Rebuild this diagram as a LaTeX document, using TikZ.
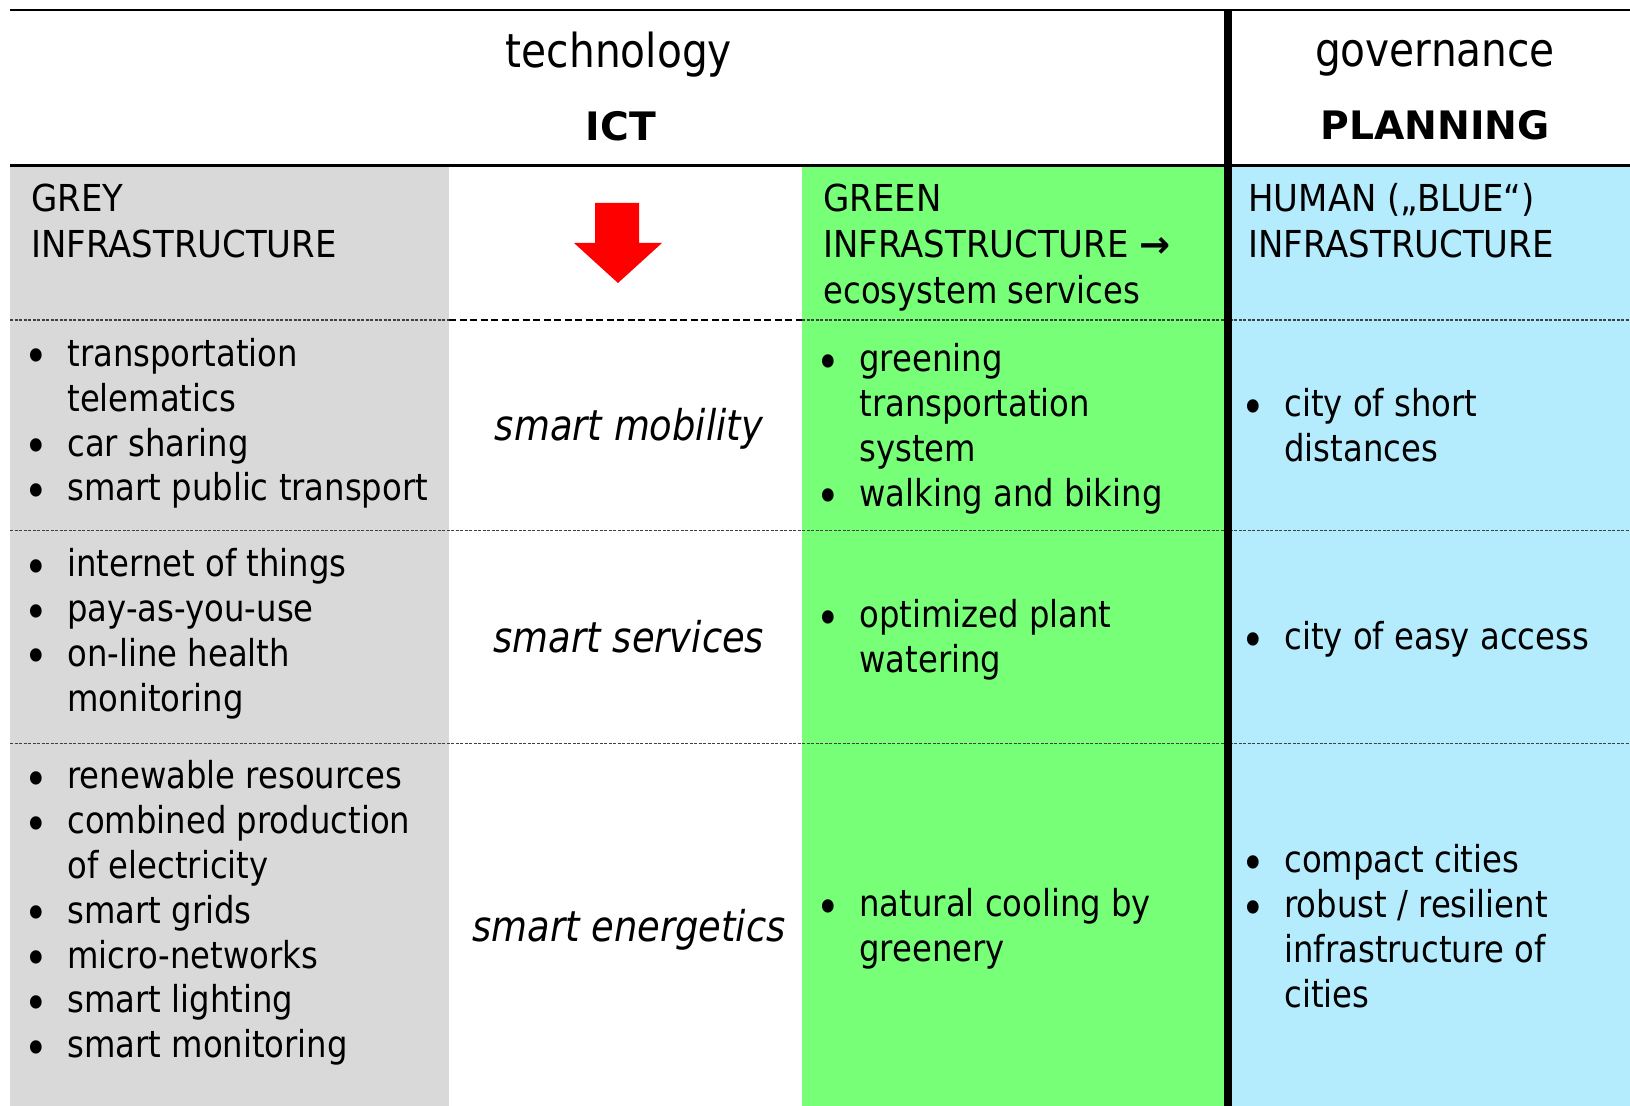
\documentclass[tikz,border=0pt]{standalone}
\usepackage{fontspec}
\setmainfont{DejaVu Sans}[FakeStretch=0.87]
\newfontfamily\hdfont{DejaVu Sans}
\newfontfamily\capsfont{DejaVu Sans}[FakeStretch=0.915]
\definecolor{greyc}{RGB}{217,217,217}
\definecolor{greenc}{RGB}{120,255,120}
\definecolor{bluec}{RGB}{180,236,254}
\newcommand{\bodyfont}{\fontsize{18.55}{22.4}\selectfont}
\newcommand{\titlefont}{\fontsize{18.55}{23}\selectfont}
\newcommand{\smartfont}{\fontsize{21.2}{25}\selectfont\itshape}
\newcommand{\headfont}{\fontsize{23.4}{28}\selectfont}
\newcommand{\boldheadfont}{\hdfont\bfseries\fontsize{19.6}{24}\selectfont}
\newcommand{\bul}{\hspace*{-5.4pt}\raisebox{-3.2pt}{\fontsize{23}{22}\selectfont •}}
\newcommand{\blist}[1]{\begin{tabular}[t]{@{}p{16pt}@{}l@{}}#1\end{tabular}}
\newcommand{\tlist}[1]{\begin{tabular}[t]{@{}l@{}}#1\end{tabular}}
\begin{document}
\begin{tikzpicture}[x=0.5pt,y=-0.5pt,
  cell/.style={anchor=base west,inner sep=0pt,font=\bodyfont},
  titlecell/.style={anchor=base west,inner sep=0pt,font=\titlefont},
  smartlbl/.style={anchor=base,inner sep=0pt,font=\smartfont},
  headlbl/.style={anchor=base,inner sep=0pt,font=\headfont},
  headbold/.style={anchor=base,inner sep=0pt,font=\boldheadfont},
  thinrule/.style={line width=0.6pt,draw=black!75,dash pattern=on 1.5pt off 0.75pt},
  thickdash/.style={line width=1.15pt,draw=black,dash pattern=on 3.5pt off 1.75pt},
  solidrule/.style={line width=1.25pt,draw=black}]
\useasboundingbox (0,0) rectangle (1630,1106);
\fill[white] (0,0) rectangle (1630,1106);
% column fills
\fill[greyc] (10,166) rectangle (449,1106);
\fill[greenc] (802,166) rectangle (1228,1106);
\fill[bluec] (1228,166) rectangle (1630,1106);
% rules
\draw[solidrule] (10,10) -- (1630,10);
\draw[solidrule] (10,165.5) -- (1630,165.5);
\draw[thinrule] (10,320) -- (449,320);
\draw[thickdash] (449,320) -- (802,320);
\draw[thinrule] (802,320) -- (1630,320);
\draw[thinrule] (10,530.5) -- (1630,530.5);
\draw[thinrule] (10,743.5) -- (1630,743.5);
\draw[line width=3.75pt] (1228,10) -- (1228,1106);
% header
\node[headlbl] (tech) at (619,68) {technology};
\node[headbold] (ict) at (621,141) {ICT};
\node[headlbl] (gov) at (1435,67) {governance};
\node[headbold] (plan) at (1435,140) {PLANNING};
% titles
\node[titlecell] (greyt) at (31,212) {\tlist{\capsfont GREY\\\capsfont INFRASTRUCTURE}};
\node[titlecell] (greent) at (823,212) {\tlist{\capsfont GREEN\\\capsfont INFRASTRUCTURE {\hdfont\bfseries →}\\ecosystem services}};
\node[titlecell] (bluet) at (1248,212) {\tlist{\capsfont HUMAN („BLUE“)\\\capsfont INFRASTRUCTURE}};
% red arrow
\fill[red] (595,203) -- (639,203) -- (639,243) -- (662,243) -- (618,283) -- (574,243) -- (595,243) -- cycle;
% grey cells
\node[cell] (g1) at (35,366.5) {\blist{\bul & transportation\\ & telematics\\ \bul & car sharing\\ \bul & smart public transport}};
\node[cell] (g2) at (35,577) {\blist{\bul & internet of things\\ \bul & pay-as-you-use\\ \bul & on-line health\\ & monitoring}};
\node[cell] (g3) at (35,789) {\blist{\bul & renewable resources\\ \bul & combined production\\ & of electricity\\ \bul & smart grids\\ \bul & micro-networks\\ \bul & smart lighting\\ \bul & smart monitoring}};
% smart labels
\node[smartlbl] (s1) at (629,441) {smart mobility};
\node[smartlbl] (s2) at (629,653) {smart services};
\node[smartlbl] (s3) at (629,942) {smart energetics};
% green cells
\node[cell] (e1) at (827,372) {\blist{\bul & greening\\ & transportation\\ & system\\ \bul & walking and biking}};
\node[cell] (e2) at (827,628) {\blist{\bul & optimized plant\\ & watering}};
\node[cell] (e3) at (827,917) {\blist{\bul & natural cooling by\\ & greenery}};
% blue cells
\node[cell] (b1) at (1252,417) {\blist{\bul & city of short\\ & distances}};
\node[cell] (b2) at (1252,650) {\blist{\bul & city of easy access}};
\node[cell] (b3) at (1252,873) {\blist{\bul & compact cities\\ \bul & robust / resilient\\ & infrastructure of\\ & cities}};
\end{tikzpicture}
\end{document}
